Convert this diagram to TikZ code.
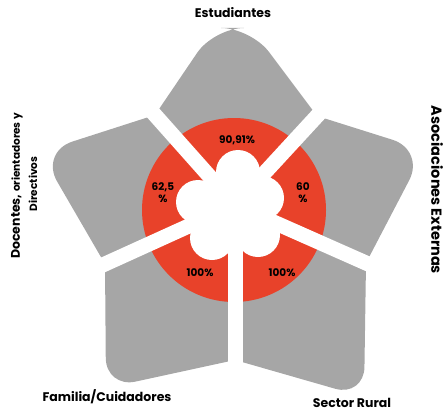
\documentclass[tikz,border=0pt]{standalone}
\usepackage{fontspec}
\setmainfont{Poppins}
\definecolor{petalgray}{RGB}{166,166,166}
\definecolor{ringred}{RGB}{232,66,42}

\begin{document}
\begin{tikzpicture}[x=1pt,y=-1pt]
        \tikzstyle{petal}=[fill=petalgray]
        \tikzstyle{spoke}=[white,line width=15pt,shorten >=-25pt]
        \tikzstyle{pct}=[font=\fontsize{10.5}{10}\selectfont\bfseries,align=center,inner sep=0pt]
        \tikzstyle{sector}=[font=\fontsize{12.5}{13}\selectfont\bfseries,inner sep=0pt]
        \useasboundingbox (0,0) rectangle (446,412);
        \coordinate (c) at (235,205);
        \coordinate (s1) at (155,115);
        \coordinate (s2) at (317,116);
        \coordinate (s3) at (105,264);
        \coordinate (s4) at (366,263);
        \coordinate (s5) at (235,360);
        % petals
        \fill[petal] (c) -- (s1) [rounded corners=30pt] -- (214,28) -- (251,28) [sharp corners] -- (s2) -- cycle;
        \fill[petal] (c) -- (s3) [rounded corners=34pt] -- (40,152) [sharp corners] -- (s1) -- cycle;
        \fill[petal] (c) -- (s2) [rounded corners=34pt] -- (425,150) [sharp corners] -- (s4) -- cycle;
        \fill[petal] (c) -- (s3) [rounded corners=30pt] -- (106,388) [sharp corners] -- (s5) -- cycle;
        \fill[petal] (c) -- (s5) [rounded corners=30pt] -- (364,397) [sharp corners] -- (s4) -- cycle;
        % ring and gaps
        \fill[ringred] (234,210) circle (92);
        \foreach \s in {s1,s2,s3,s4,s5}
            \draw[spoke] (c) -- (\s);
        \fill[white] (232,210) circle (36) (238,172) circle (22) (198,202) circle (22)
            (262,198) circle (22) (212,238) circle (22) (258,235) circle (22);
        % values
        \node[pct] (est) at (237,140) {90,91\%};
        \node[pct] (doc) at (163,193) {62,5\\[2pt]\%};
        \node[pct] (aso) at (303,193) {60\\[2pt]\%};
        \node[pct] (fam) at (200,273) {100\%};
        \node[pct] (rur) at (282,273) {100\%};
        % labels
        \node[sector] (lest) at (233,13) {Estudiantes};
        \node[sector,rotate=90] (ldoc) at (17,186) {Docentes, {\fontsize{10.5}{11}\selectfont orientadores y}};
        \node[sector,font=\fontsize{10.5}{11}\selectfont\bfseries,rotate=90] (ldir) at (33,184) {Directivos};
        \node[sector,font=\fontsize{14.5}{15}\selectfont\bfseries,rotate=-90] (laso) at (437,190) {Asociaciones Externas};
        \node[sector] (lfam) at (107,397) {Familia/Cuidadores};
        \node[sector] (lrur) at (352,403) {Sector Rural};
    \end{tikzpicture}
\end{document}
